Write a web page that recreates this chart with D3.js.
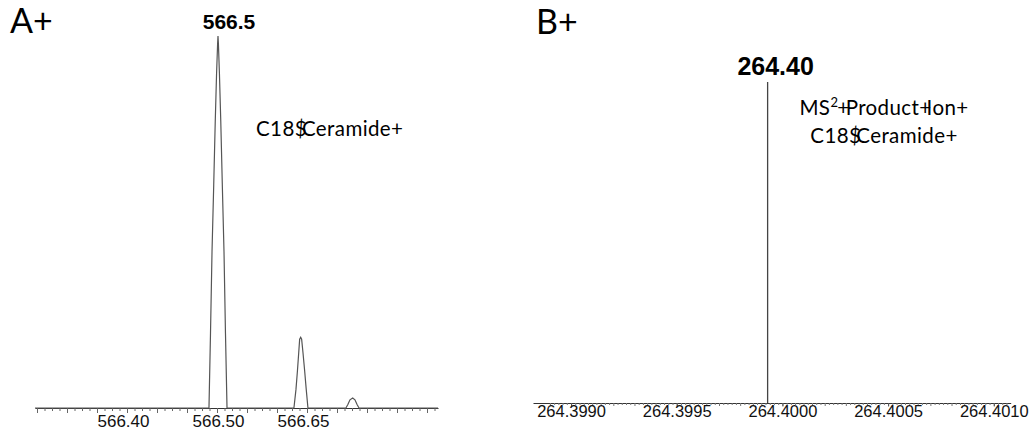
<!DOCTYPE html>
<html>
<head>
<meta charset="utf-8">
<script src="https://cdn.jsdelivr.net/npm/d3@7"></script>
<style>
  body { margin: 0; background: #fff; }
  svg { display: block; }
  .tick text { font-family: "Liberation Sans", Arial, sans-serif; fill: #111; }
  .note { font-family: Lato, "Noto Sans", sans-serif; fill: #000; }
</style>
</head>
<body>
<svg id="chart" width="1032" height="440"></svg>
<script>
// panel A: profile trace (m/z, relative intensity %)
var mzA = [566.307, 566.4905, 566.4921, 566.4937, 566.4955, 566.4971, 566.4985, 566.4996, 566.5000,
  566.5007, 566.5025, 566.5049, 566.5076, 566.5106, 566.5132, 566.5159,
  566.6340, 566.6376, 566.6402, 566.6425, 566.6441, 566.6459, 566.6476, 566.6499, 566.6529, 566.6557, 566.6587,
  566.7257, 566.7293, 566.7328, 566.7376, 566.7416, 566.7451, 566.7487, 566.888];
var intA = [0, 0, 20, 42, 60, 77, 90, 98, 100,
  98, 90, 77, 60, 42, 20, 0,
  0, 5, 10, 15, 18.5, 19, 18.5, 15, 10, 5, 0,
  0, 1, 2.2, 2.7, 2.2, 1, 0, 0];
var tickValsA = [566.40, 566.50, 566.65];
var tickLabelsA = ['566.40', '566.50', '566.65'];
var peakLabelA = {mz: 566.5, text: '566.5'};

// panel B: MS2 product ion stick
var mzB = [264.39993];
var intB = [100];
var tickValsB = [264.3990, 264.3995, 264.4000, 264.4005, 264.4010];
var tickLabelsB = ['264.3990', '264.3995', '264.4000', '264.4005', '264.4010'];
var peakLabelB = {mz: 264.39993, text: '264.40'};

var svg = d3.select('#chart');

// ---------- panel A ----------
var xA = d3.scaleLinear()
  .domain([566.307, 566.40, 566.50, 566.65, 566.888])
  .range([35, 123, 218, 303, 438]);
var yA = d3.scaleLinear().domain([0, 100]).range([408, 36]);

var gA = svg.append('g');

// minor ticks, evenly spaced along the axis
var minorA = d3.range(0, 54).map(function (i) { return xA.invert(37 + i * 7.5); });
gA.append('g')
  .attr('transform', 'translate(0,' + yA(0) + ')')
  .call(d3.axisBottom(xA).tickValues(minorA).tickSize(3).tickSizeOuter(0).tickFormat(''))
  .call(function (g) {
    g.select('.domain').attr('stroke', '#333');
    g.selectAll('.tick line').attr('stroke', '#666');
    g.selectAll('.tick').filter(function (d, i) { return i % 4 === 0; })
      .select('line').attr('y2', 5);
  });

gA.append('g')
  .attr('transform', 'translate(0,' + yA(0) + ')')
  .call(d3.axisBottom(xA).tickValues(tickValsA).tickSize(0).tickFormat(function (d, i) { return tickLabelsA[i]; }))
  .call(function (g) {
    g.select('.domain').remove();
    g.selectAll('text').attr('y', 19).attr('dy', 0).style('font-size', '17px');
  });

gA.append('path')
  .datum(d3.zip(mzA, intA))
  .attr('fill', 'none')
  .attr('stroke', '#555')
  .attr('stroke-width', 1.2)
  .attr('d', d3.line().x(function (d) { return xA(d[0]); }).y(function (d) { return yA(d[1]); }));

gA.append('text')
  .attr('x', xA(peakLabelA.mz) + 11)
  .attr('y', 29)
  .attr('text-anchor', 'middle')
  .style('font-family', '"Liberation Sans", Arial, sans-serif')
  .style('font-weight', 'bold')
  .style('font-size', '21px')
  .text(peakLabelA.text);

gA.append('text').attr('class', 'note')
  .attr('x', 10).attr('y', 33)
  .style('font-size', '34px')
  .text('A+');

var noteA = gA.append('text').attr('class', 'note')
  .attr('x', 256).attr('y', 136)
  .style('font-size', '20.5px')
  .style('letter-spacing', '0.4px');
noteA.append('tspan').text('C18');
noteA.append('tspan').text('$');
noteA.append('tspan').attr('dx', -5).text('Ceramide+');

// ---------- panel B ----------
var xB = d3.scaleLinear().domain([264.39882, 264.40108]).range([533, 1010.7]);
var yB = d3.scaleLinear().domain([0, 100]).range([403, 82]);

var gB = svg.append('g');

var minorB = d3.range(264.39890, 264.401071, 0.00002);
gB.append('g')
  .attr('transform', 'translate(0,' + yB(0) + ')')
  .call(d3.axisBottom(xB).tickValues(minorB).tickSize(2).tickSizeOuter(0).tickFormat(''))
  .call(function (g) {
    g.select('.domain').attr('stroke', '#333');
    g.selectAll('.tick line').attr('stroke', '#777');
    g.selectAll('.tick').filter(function (d, i) { return i % 5 === 0; })
      .select('line').attr('y2', 3);
  });

gB.append('g')
  .attr('transform', 'translate(0,' + yB(0) + ')')
  .call(d3.axisBottom(xB).tickValues(tickValsB).tickSize(3.5).tickSizeOuter(0).tickFormat(function (d, i) { return tickLabelsB[i]; }))
  .call(function (g) {
    g.select('.domain').remove();
    g.selectAll('.tick line').attr('stroke', '#555');
    g.selectAll('text').attr('y', 13.5).attr('dy', 0).style('font-size', '16.5px');
  });

gB.selectAll('line.stick')
  .data(d3.zip(mzB, intB))
  .join('line')
  .attr('class', 'stick')
  .attr('x1', function (d) { return xB(d[0]); })
  .attr('x2', function (d) { return xB(d[0]); })
  .attr('y1', yB(0))
  .attr('y2', function (d) { return yB(d[1]); })
  .attr('stroke', '#444')
  .attr('stroke-width', 1.3);

gB.append('text')
  .attr('x', xB(peakLabelB.mz) + 8)
  .attr('y', 75)
  .attr('text-anchor', 'middle')
  .style('font-family', '"Liberation Sans", Arial, sans-serif')
  .style('font-weight', 'bold')
  .style('font-size', '25px')
  .text(peakLabelB.text);

gB.append('text').attr('class', 'note')
  .attr('x', 536).attr('y', 34)
  .style('font-size', '34px')
  .text('B+');

var noteB1 = gB.append('text').attr('class', 'note')
  .attr('x', 884).attr('y', 115)
  .attr('text-anchor', 'middle')
  .style('font-size', '20.5px')
  .style('letter-spacing', '0.4px');
noteB1.append('tspan').text('MS');
noteB1.append('tspan').attr('dy', -8).style('font-size', '13px').text('2');
noteB1.append('tspan').attr('dy', 8).attr('dx', -1).text('+');
noteB1.append('tspan').attr('dx', -4).text('Product');
noteB1.append('tspan').text('+');
noteB1.append('tspan').attr('dx', -5).text('Ion+');

var noteB2 = gB.append('text').attr('class', 'note')
  .attr('x', 884).attr('y', 143)
  .attr('text-anchor', 'middle')
  .style('font-size', '20.5px')
  .style('letter-spacing', '0.4px');
noteB2.append('tspan').text('C18');
noteB2.append('tspan').text('$');
noteB2.append('tspan').attr('dx', -5).text('Ceramide+');
</script>
</body>
</html>
